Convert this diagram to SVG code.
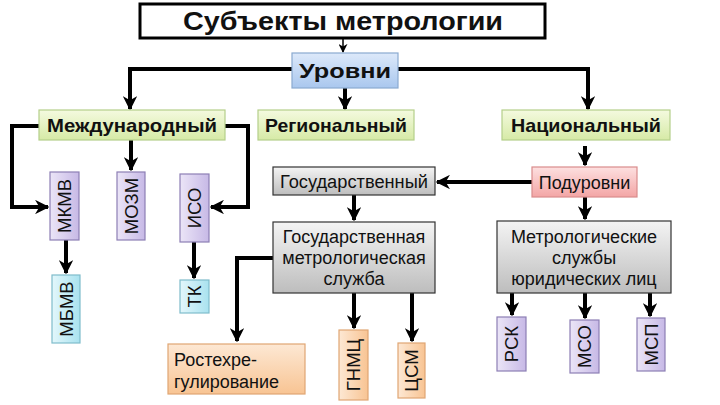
<svg xmlns="http://www.w3.org/2000/svg" width="720" height="405" viewBox="0 0 720 405">
<style>
.b{stroke-width:1.2}
.lbl{font-family:"Liberation Sans",Arial,sans-serif;fill:#111}
.hb{font-weight:bold;font-size:19px}
.rg{font-size:18px}
.v{font-size:18.5px}
.c{fill:none;stroke:#000;stroke-width:4}
.t{fill:none;stroke:#000;stroke-width:1.5}
</style>
<defs>
<linearGradient id="gG" x1="0" y1="0" x2="0" y2="1"><stop offset="0" stop-color="#f4fadf"/><stop offset="1" stop-color="#d6eaa6"/></linearGradient>
<linearGradient id="gB" x1="0" y1="0" x2="0" y2="1"><stop offset="0" stop-color="#dde9fa"/><stop offset="1" stop-color="#a9c7ee"/></linearGradient>
<linearGradient id="gP" x1="0" y1="0" x2="1" y2="0"><stop offset="0" stop-color="#ebe5f7"/><stop offset="1" stop-color="#c7b9e6"/></linearGradient>
<linearGradient id="gC" x1="0" y1="0" x2="1" y2="0"><stop offset="0" stop-color="#e3f7fb"/><stop offset="1" stop-color="#a9e2ef"/></linearGradient>
<linearGradient id="gO" x1="0" y1="0" x2="0" y2="1"><stop offset="0" stop-color="#fde8d4"/><stop offset="1" stop-color="#f8c493"/></linearGradient>
<linearGradient id="gOv" x1="0" y1="0" x2="1" y2="0"><stop offset="0" stop-color="#fde8d4"/><stop offset="1" stop-color="#f8c493"/></linearGradient>
<linearGradient id="gS" x1="0" y1="0" x2="0" y2="1"><stop offset="0" stop-color="#f4f4f4"/><stop offset="1" stop-color="#bdbdbd"/></linearGradient>
<linearGradient id="gR" x1="0" y1="0" x2="0" y2="1"><stop offset="0" stop-color="#fde0e0"/><stop offset="1" stop-color="#f3a5a5"/></linearGradient>
<marker id="ar" viewBox="0 0 10 10" refX="9" refY="5" markerWidth="3.6" markerHeight="3.6" orient="auto" markerUnits="strokeWidth">
<path d="M0,0 L10,5 L0,10 L3,5 z" fill="#000"/>
</marker>
<marker id="ars" viewBox="0 0 10 10" refX="9" refY="5" markerWidth="6" markerHeight="6" orient="auto" markerUnits="strokeWidth">
<path d="M0,0 L10,5 L0,10 L3,5 z" fill="#000"/>
</marker>
</defs>

<g id="connectors">
<path class="t" d="M343,38 V52" marker-end="url(#ars)"/>
<path class="c" d="M292,69 H130 V109" marker-end="url(#ar)"/>
<path class="c" d="M345,88 V109" marker-end="url(#ar)"/>
<path class="c" d="M398,69 H588 V109" marker-end="url(#ar)"/>
<path class="c" d="M39,126 H12 V207 H48" marker-end="url(#ar)"/>
<path class="c" d="M225,126 H248 V207 H211" marker-end="url(#ar)"/>
<path class="c" d="M131,140 V170" marker-end="url(#ar)"/>
<path class="c" d="M66,240 V273" marker-end="url(#ar)"/>
<path class="c" d="M194,242 V278" marker-end="url(#ar)"/>
<path class="c" d="M585,146 V165" marker-end="url(#ar)"/>
<path class="c" d="M532,182 H437" marker-end="url(#ar)"/>
<path class="c" d="M354,195 V220" marker-end="url(#ar)"/>
<path class="c" d="M585,197 V219" marker-end="url(#ar)"/>
<path class="c" d="M273,258 H237 V341" marker-end="url(#ar)"/>
<path class="c" d="M354,293 V328" marker-end="url(#ar)"/>
<path class="c" d="M412,293 V341" marker-end="url(#ar)"/>
<path class="c" d="M512,293 V315" marker-end="url(#ar)"/>
<path class="c" d="M585,293 V318" marker-end="url(#ar)"/>
<path class="c" d="M650,293 V316" marker-end="url(#ar)"/>
</g>

<g id="title"><rect x="140" y="4" width="405" height="34" fill="#fff" stroke="#000" stroke-width="3"/>
<text class="lbl" x="343" y="30" text-anchor="middle" font-weight="bold" font-size="25" textLength="320" lengthAdjust="spacingAndGlyphs">Субъекты метрологии</text></g>

<g id="urovni"><rect x="292" y="53" width="106" height="35" fill="url(#gB)" stroke="#8aaad0" class="b"/>
<text class="lbl" x="345" y="78" text-anchor="middle" font-weight="bold" font-size="21" textLength="92" lengthAdjust="spacingAndGlyphs">Уровни</text></g>

<g id="mezhd"><rect x="39" y="110" width="186" height="30" fill="url(#gG)" stroke="#b5cf8a" class="b"/>
<text class="lbl hb" x="132" y="132" text-anchor="middle" textLength="170" lengthAdjust="spacingAndGlyphs">Международный</text></g>

<g id="region"><rect x="258" y="110" width="156" height="30" fill="url(#gG)" stroke="#b5cf8a" class="b"/>
<text class="lbl hb" x="336" y="132" text-anchor="middle" textLength="142" lengthAdjust="spacingAndGlyphs">Региональный</text></g>

<g id="nac"><rect x="502" y="110" width="168" height="30" fill="url(#gG)" stroke="#b5cf8a" class="b"/>
<text class="lbl hb" x="586" y="132" text-anchor="middle" textLength="150" lengthAdjust="spacingAndGlyphs">Национальный</text></g>

<g id="mkmv"><rect x="50" y="172" width="29" height="68" fill="url(#gP)" stroke="#8d7fb5" class="b"/>
<text class="lbl v" transform="translate(71,206) rotate(-90)" text-anchor="middle">МКМВ</text></g>

<g id="mozm"><rect x="117" y="172" width="28" height="68" fill="url(#gP)" stroke="#8d7fb5" class="b"/>
<text class="lbl v" transform="translate(137.5,206) rotate(-90)" text-anchor="middle">МОЗМ</text></g>

<g id="iso"><rect x="180" y="174" width="29" height="68" fill="url(#gP)" stroke="#8d7fb5" class="b"/>
<text class="lbl v" transform="translate(201,208) rotate(-90)" text-anchor="middle">ИСО</text></g>

<g id="mbmv"><rect x="52" y="275" width="28" height="68" fill="url(#gC)" stroke="#7fbccb" class="b"/>
<text class="lbl v" transform="translate(72.5,309) rotate(-90)" text-anchor="middle">МБМВ</text></g>

<g id="tk"><rect x="180" y="280" width="29" height="33" fill="url(#gC)" stroke="#7fbccb" class="b"/>
<text class="lbl v" transform="translate(201,296.5) rotate(-90)" text-anchor="middle">ТК</text></g>

<g id="gos"><rect x="273" y="167" width="162" height="28" fill="url(#gS)" stroke="#333" class="b"/>
<text class="lbl rg" x="354" y="188" text-anchor="middle" textLength="148" lengthAdjust="spacingAndGlyphs">Государственный</text></g>

<g id="gms"><rect x="273" y="222" width="162" height="71" fill="url(#gS)" stroke="#333" class="b"/>
<text class="lbl rg" text-anchor="middle"><tspan x="354" y="243">Государственная</tspan><tspan x="354" y="264">метрологическая</tspan><tspan x="354" y="285">служба</tspan></text></g>

<g id="podur"><rect x="532" y="167" width="105" height="30" fill="url(#gR)" stroke="#d98c8c" class="b"/>
<text class="lbl rg" x="584.5" y="188.5" text-anchor="middle">Подуровни</text></g>

<g id="msyl"><rect x="497" y="221" width="174" height="72" fill="url(#gS)" stroke="#333" class="b"/>
<text class="lbl rg" text-anchor="middle"><tspan x="584" y="243">Метрологические</tspan><tspan x="584" y="264">службы</tspan><tspan x="584" y="285">юридических лиц</tspan></text></g>

<g id="rosteh"><rect x="168" y="344" width="137" height="50" fill="url(#gO)" stroke="#e0a673" class="b"/>
<text class="lbl rg"><tspan x="174" y="366">Ростехре-</tspan><tspan x="174" y="388">гулирование</tspan></text></g>

<g id="gnmc"><rect x="339" y="330" width="29" height="70" fill="url(#gOv)" stroke="#e0a673" class="b"/>
<text class="lbl v" transform="translate(360,365) rotate(-90)" text-anchor="middle">ГНМЦ</text></g>

<g id="csm"><rect x="398" y="343" width="27" height="55" fill="url(#gOv)" stroke="#e0a673" class="b"/>
<text class="lbl v" transform="translate(418,370.5) rotate(-90)" text-anchor="middle">ЦСМ</text></g>

<g id="rsk"><rect x="497" y="317" width="29" height="54" fill="url(#gP)" stroke="#8d7fb5" class="b"/>
<text class="lbl v" transform="translate(518,344) rotate(-90)" text-anchor="middle">РСК</text></g>

<g id="mso"><rect x="570" y="320" width="29" height="53" fill="url(#gP)" stroke="#8d7fb5" class="b"/>
<text class="lbl v" transform="translate(591,346.5) rotate(-90)" text-anchor="middle">МСО</text></g>

<g id="msp"><rect x="637" y="318" width="28" height="53" fill="url(#gP)" stroke="#8d7fb5" class="b"/>
<text class="lbl v" transform="translate(657.5,344.5) rotate(-90)" text-anchor="middle">МСП</text></g>
</svg>
